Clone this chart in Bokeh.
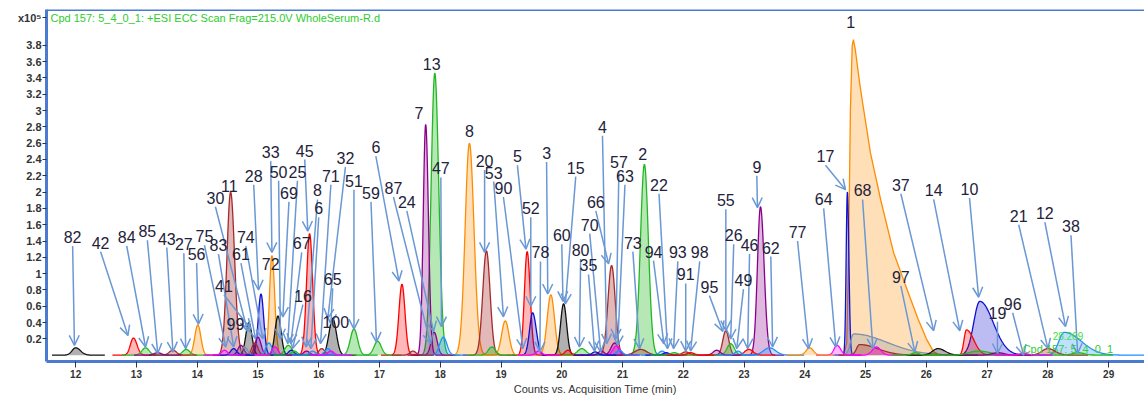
import numpy as np
from bokeh.plotting import figure
from bokeh.models import (Range1d, FixedTicker, ColumnDataSource, Arrow, OpenHead,
                          Label, LabelSet, Span)
from bokeh.core.properties import value
from bokeh.embed import file_html
from bokeh.resources import INLINE

# ---------------- data (intensity in units of 1e5 counts, time in min) ----------------
RED, GRN, ORG, BLU, PUR = "#ff0000", "#22b822", "#ff8c00", "#1010d0", "#8b008b"
BLK, BRN, MAG, LBL, GRY = "#111111", "#a52a2a", "#ff00ff", "#1e90ff", "#8090a8"

peak_rt = [12.00, 12.95, 13.15, 13.35, 13.60, 13.82, 14.01, 14.45, 14.55, 14.60,
           14.72, 14.78, 14.85, 14.95, 15.00, 15.05, 15.18, 15.23, 15.28, 15.33,
           15.50, 15.55, 15.60, 15.85, 15.80, 15.90, 16.05, 16.15, 16.20, 16.23,
           16.58, 16.97, 17.37, 17.55, 17.76, 17.90, 17.91, 18.05, 18.48, 18.76,
           18.85, 19.07, 19.43, 19.52, 19.62, 19.82, 20.03, 20.10, 20.33, 20.55,
           20.65, 20.82, 20.87, 20.90, 20.95, 21.30, 21.36, 21.65, 21.72, 21.85,
           22.04, 22.12, 22.55, 22.70, 22.78, 22.90, 23.08, 23.27, 23.42, 24.08,
           24.53, 24.70, 24.80, 24.90, 25.18, 25.82, 26.19, 26.66, 26.88, 26.85,
           27.18, 27.60, 28.00, 28.27, 28.50]
peak_height = [0.09, 0.21, 0.09, 0.03, 0.06, 0.07, 0.37, 0.06, 2.00, 0.08,
               0.12, 0.10, 0.40, 0.15, 0.22, 0.75, 0.15, 1.22, 0.10, 0.48,
               0.12, 0.06, 0.05, 1.49, 0.05, 0.05, 0.08, 0.08, 0.05, 0.45,
               0.32, 0.17, 0.87, 0.05, 2.83, 0.28, 3.46, 0.22, 2.60, 1.28,
               0.10, 0.42, 1.27, 0.52, 0.05, 0.74, 0.63, 0.06, 0.08, 0.04,
               0.05, 1.10, 0.15, 0.11, 0.06, 0.07, 2.34, 0.05, 0.03, 0.03,
               0.04, 0.03, 0.06, 0.30, 0.14, 0.05, 0.07, 1.82, 0.09, 0.09,
               0.12, 2.00, 0.26, 0.13, 0.10, 0.03, 0.08, 0.31, 0.66, 0.05,
               0.03, 0.02, 0.08, 0.28, 0.03]
peak_width_left = [0.06, 0.05, 0.06, 0.06, 0.06, 0.06, 0.05, 0.05, 0.06, 0.05,
                   0.05, 0.05, 0.05, 0.05, 0.05, 0.045, 0.05, 0.04, 0.05, 0.05,
                   0.06, 0.05, 0.05, 0.05, 0.05, 0.05, 0.05, 0.05, 0.05, 0.06,
                   0.06, 0.06, 0.05, 0.05, 0.04, 0.05, 0.06, 0.06, 0.07, 0.06,
                   0.06, 0.06, 0.045, 0.05, 0.05, 0.06, 0.05, 0.05, 0.07, 0.05,
                   0.05, 0.06, 0.06, 0.06, 0.05, 0.10, 0.065, 0.05, 0.05, 0.06,
                   0.06, 0.06, 0.06, 0.05, 0.06, 0.05, 0.07, 0.05, 0.10, 0.06,
                   0.05, 0.02, 0.05, 0.05, 0.07, 0.06, 0.09, 0.04, 0.10, 0.15,
                   0.10, 0.08, 0.10, 0.09, 0.10]
peak_width_right = [0.08, 0.06, 0.06, 0.06, 0.06, 0.06, 0.05, 0.05, 0.065, 0.05,
                    0.05, 0.05, 0.05, 0.05, 0.05, 0.045, 0.05, 0.045, 0.05, 0.05,
                    0.06, 0.05, 0.05, 0.05, 0.05, 0.05, 0.05, 0.05, 0.05, 0.06,
                    0.06, 0.06, 0.05, 0.05, 0.045, 0.05, 0.065, 0.06, 0.075, 0.06,
                    0.06, 0.06, 0.05, 0.06, 0.05, 0.06, 0.05, 0.05, 0.07, 0.05,
                    0.05, 0.06, 0.06, 0.06, 0.05, 0.10, 0.065, 0.05, 0.05, 0.06,
                    0.06, 0.06, 0.06, 0.05, 0.06, 0.05, 0.07, 0.06, 0.10, 0.06,
                    0.06, 0.025, 0.55, 0.30, 0.07, 0.06, 0.12, 0.12, 0.22, 0.20,
                    0.10, 0.08, 0.12, 0.28, 0.10]
peak_color = [BLK, RED, GRN, PUR, BRN, GRN, ORG, MAG, BRN, BLU,
              PUR, GRY, BLK, BRN, PUR, BLU, LBL, ORG, MAG, BLK,
              GRN, BLU, GRN, RED, PUR, LBL, BRN, LBL, MAG, BLK,
              GRN, GRN, RED, BRN, PUR, PUR, GRN, LBL, ORG, BRN,
              GRN, ORG, RED, BLU, MAG, ORG, BLK, RED, GRN, BLU,
              PUR, BRN, PUR, MAG, LBL, BRN, GRN, LBL, BLU, GRN,
              BRN, RED, PUR, BRN, GRN, LBL, RED, PUR, LBL, ORG,
              MAG, BLU, GRY, BRN, MAG, GRN, BLK, RED, BLU, GRN,
              PUR, MAG, BRN, LBL, GRN]

# compound 1: strongly tailing main peak, sampled from the trace
peak1_time = [24.64, 24.69, 24.72, 24.75, 24.78, 24.80, 24.83, 24.90, 24.95, 25.08,
              25.25, 25.46, 25.66, 25.86, 26.00, 26.12, 26.22]
peak1_intensity = [0.0, 0.15, 1.2, 3.0, 3.80, 3.87, 3.75, 3.35, 3.10, 2.48,
                   1.90, 1.26, 0.85, 0.45, 0.20, 0.04, 0.0]

# compound annotations: text, label position, arrow end (nan = no arrow)
nan = float("nan")
label_text = ["1", "2", "3", "4", "5", "6", "7", "8", "9", "10",
              "11", "12", "13", "14", "15", "16", "17", "19", "20", "21",
              "22", "24", "25", "26", "27", "28", "30", "32", "33", "35",
              "37", "38", "41", "42", "43", "45", "46", "47", "49", "50",
              "51", "52", "53", "55", "56", "57", "59", "60", "61", "62",
              "63", "64", "65", "66", "67", "68", "69", "70", "71", "72",
              "73", "74", "75", "77", "78", "80", "82", "83", "84", "85",
              "87", "90", "91", "93", "94", "95", "96", "97", "98", "99",
              "100", "8", "6"]
label_x = [24.755, 21.33, 19.75, 20.67, 19.27, 16.94, 17.65, 18.48, 23.21, 26.71,
           14.53, 27.95, 17.86, 26.12, 20.23, 15.74, 24.34, 27.17, 18.73, 27.52,
           21.60, 17.45, 15.65, 22.83, 13.78, 14.93, 14.30, 16.44, 15.21, 20.44,
           25.58, 28.38, 14.44, 12.41, 13.50, 15.77, 23.09, 18.01, 22.99, 15.34,
           16.58, 19.49, 18.88, 22.70, 13.99, 20.94, 16.86, 20.00, 14.72, 23.44,
           21.04, 24.31, 16.23, 20.56, 15.72, 24.95, 15.51, 20.46, 16.20, 15.21,
           21.17, 14.80, 14.12, 23.88, 19.65, 20.31, 11.95, 14.35, 12.84, 13.18,
           17.23, 19.04, 22.04, 21.91, 21.51, 22.43, 27.42, 25.58, 22.27, 14.63,
           16.28, 15.98, 16.00]
label_y = [4.09, 2.47, 2.48, 2.80, 2.44, 2.55, 2.97, 2.75, 2.31, 2.04,
           2.07, 1.74, 3.57, 2.02, 2.30, 0.73, 2.44, 0.52, 2.38, 1.71,
           2.09, 1.88, 2.25, 1.47, 1.36, 2.20, 1.93, 2.42, 2.49, 1.10,
           2.09, 1.58, 0.85, 1.38, 1.43, 2.51, 1.35, 2.29, 0.92, 2.25,
           2.14, 1.80, 2.24, 1.90, 1.24, 2.37, 1.99, 1.47, 1.24, 1.32,
           2.20, 1.91, 0.93, 1.88, 1.37, 2.02, 1.99, 1.60, 2.20, 1.12,
           1.38, 1.45, 1.46, 1.51, 1.26, 1.29, 1.45, 1.35, 1.45, 1.52,
           2.05, 2.05, 0.99, 1.26, 1.27, 0.84, 0.63, 0.96, 1.26, 0.38,
           0.41, 2.02, 1.80]
arrow_x = [nan, nan, 19.77, 20.74, 19.41, 17.32, nan, nan, 23.22, 26.86,
           nan, 28.29, nan, 26.55, 20.06, 15.57, 24.67, 27.17, 18.73, 28.00,
           21.74, 17.89, 15.49, 22.78, 13.81, 15.01, 14.83, 16.15, 15.23, 20.54,
           26.12, 28.49, 14.88, 12.86, 13.60, 15.82, 23.06, 18.02, 22.88, 15.37,
           16.58, 19.49, 19.04, 22.70, 14.02, 20.89, 16.95, 20.02, 14.96, 23.47,
           20.92, 24.51, 16.20, 20.77, 15.54, 25.12, 15.41, 20.64, 16.03, nan,
           21.28, 15.08, 14.47, 24.06, 19.64, 20.29, 11.98, 14.60, 13.15, 13.35,
           17.84, 19.36, 22.04, 21.84, 21.68, 22.65, 27.60, 25.81, 22.12, nan,
           nan, 15.79, 15.87]
arrow_y = [nan, nan, 0.75, 0.14, 1.30, 0.91, nan, nan, 1.81, 0.71,
           nan, 0.35, nan, 0.30, 0.63, 0.08, 2.03, 0.02, 1.26, 0.08,
           0.08, 0.29, 0.14, 0.20, 0.08, 0.80, 0.29, 0.45, 1.26, 0.05,
           0.30, 0.02, 0.32, 0.24, 0.04, 1.52, 0.08, 0.35, 0.08, 0.20,
           0.32, 0.60, 0.47, 0.30, 0.38, 0.20, 0.16, 0.66, 0.20, 0.10,
           0.12, 0.10, 0.38, 1.12, 0.14, 0.08, 0.47, 0.04, 0.14, nan,
           0.08, 0.20, 0.10, 0.08, 0.04, 0.10, 0.12, 0.10, 0.10, 0.02,
           0.14, 0.08, 0.05, 0.08, 0.14, 0.29, 0.00, 0.04, 0.05, nan,
           nan, 0.10, 0.08]

x_ticks = list(range(12, 30))
y_ticks = [0.2, 0.4, 0.6, 0.8, 1.0, 1.2, 1.4, 1.6, 1.8, 2.0,
           2.2, 2.4, 2.6, 2.8, 3.0, 3.2, 3.4, 3.6, 3.8]
y_tick_labels = ["0.2", "0.4", "0.6", "0.8", "1", "1.2", "1.4", "1.6", "1.8", "2",
                 "2.2", "2.4", "2.6", "2.8", "3", "3.2", "3.4", "3.6", "3.8"]
y_scale_text = "x10\u2075"   # intensity multiplier shown at the top of the y axis
y_scale_pos = 4.14

title_text = "Cpd 157: 5_4_0_1: +ESI ECC Scan Frag=215.0V WholeSerum-R.d"
x_label = "Counts vs. Acquisition Time (min)"

# ---------------- figure ----------------
FRAME = "#4a7bd0"
X0, X1 = 11.52, 29.59
Y0, Y1 = -0.078, 4.24

p = figure(width=1144, height=397, output_backend="svg", toolbar_location=None,
           x_range=Range1d(X0, X1), y_range=Range1d(Y0, Y1),
           min_border_left=46, min_border_right=0, min_border_top=9, min_border_bottom=34)
p.background_fill_color = "white"
p.border_fill_color = "white"
p.grid.visible = False
p.outline_line_color = None

p.xaxis.ticker = FixedTicker(ticks=x_ticks)
p.yaxis.ticker = FixedTicker(ticks=y_ticks + [y_scale_pos])
overrides = {t: s for t, s in zip(y_ticks, y_tick_labels)}
overrides[y_scale_pos] = y_scale_text
p.yaxis.major_label_overrides = overrides
for ax in (p.xaxis[0], p.yaxis[0]):
    ax.axis_line_color = FRAME
    ax.axis_line_width = 3
    ax.major_tick_line_color = "#333333"
    ax.major_tick_in = 0
    ax.minor_tick_line_color = None
    ax.major_label_text_color = "#333333"
    ax.major_label_text_font = "Liberation Sans"
    ax.major_label_text_font_style = "bold"
p.xaxis.major_tick_out = 6
p.yaxis.major_tick_out = 4
p.xaxis.major_label_text_font_size = "10px"
p.yaxis.major_label_text_font_size = "11px"
p.xaxis.major_label_standoff = 2
p.yaxis.major_label_standoff = 1
p.xaxis.axis_label = x_label
p.xaxis.axis_label_text_font = "Liberation Sans"
p.xaxis.axis_label_text_font_size = "11px"
p.xaxis.axis_label_text_font_style = "normal"
p.xaxis.axis_label_text_color = "#333333"
p.xaxis.axis_label_standoff = 2

p.add_layout(Span(location=Y1, dimension="width", line_color=FRAME, line_width=3))


def curve(rt, h, wl, wr, n=160):
    t = np.linspace(rt - 4.5 * wl - 0.12, rt + 4.5 * wr + 0.12, n)
    s = np.where(t < rt, wl, wr)
    return t, h * np.exp(-0.5 * ((t - rt) / s) ** 2)


order = sorted(range(len(peak_rt)), key=lambda i: -peak_height[i])
p.varea(x=peak1_time, y1=0, y2=peak1_intensity, fill_color=ORG, fill_alpha=0.28)
p.line(peak1_time, peak1_intensity, line_color=ORG, line_width=1.3)
for i in order:
    t, y = curve(peak_rt[i], peak_height[i], peak_width_left[i], peak_width_right[i])
    c = peak_color[i]
    a = 0.33 if c in (BLK, BRN, GRN) else 0.28
    p.varea(x=t, y1=0, y2=y, fill_color=c, fill_alpha=a)
    p.line(t, y, line_color=c, line_width=1.3)

# arrows
ARROW = "#6a98d4"
ax_s, ay_s, ax_e, ay_e = [], [], [], []
for lx, ly, ex, ey in zip(label_x, label_y, arrow_x, arrow_y):
    if np.isnan(ex):
        continue
    ax_s.append(lx)
    ay_s.append(ly - 0.11)
    ax_e.append(ex)
    ay_e.append(ey)
asrc = ColumnDataSource(dict(xs=ax_s, ys=ay_s, xe=ax_e, ye=ay_e))
p.add_layout(Arrow(source=asrc, x_start="xs", y_start="ys", x_end="xe", y_end="ye",
                   line_color=ARROW, line_width=1.5,
                   end=OpenHead(size=10, line_color=ARROW, line_width=1.5)))

lsrc = ColumnDataSource(dict(x=label_x, y=label_y, t=label_text))
p.add_layout(LabelSet(source=lsrc, x="x", y="y", text="t", text_align="center",
                      text_baseline="middle", text_font=value("Liberation Sans"),
                      text_font_size=value("16px"), text_color="#22223a"))

# title / small trace texts
p.add_layout(Label(x=11.585, y=4.14, text=title_text, text_font="Liberation Sans",
                   text_font_size="11px", text_color="#2ecc2e", text_baseline="middle"))
p.add_layout(Label(x=28.33, y=0.23, text="28.269", text_font="Liberation Sans",
                   text_font_size="10px", text_color="#44dd44", text_align="center",
                   text_baseline="middle"))
p.add_layout(Label(x=28.33, y=0.08, text="Cpd 157: 5_4_0_1", text_font="Liberation Sans",
                   text_font_size="11px", text_color="#33cc33", text_align="center",
                   text_baseline="middle"))

open("out.html", "w").write(file_html(p, INLINE))
